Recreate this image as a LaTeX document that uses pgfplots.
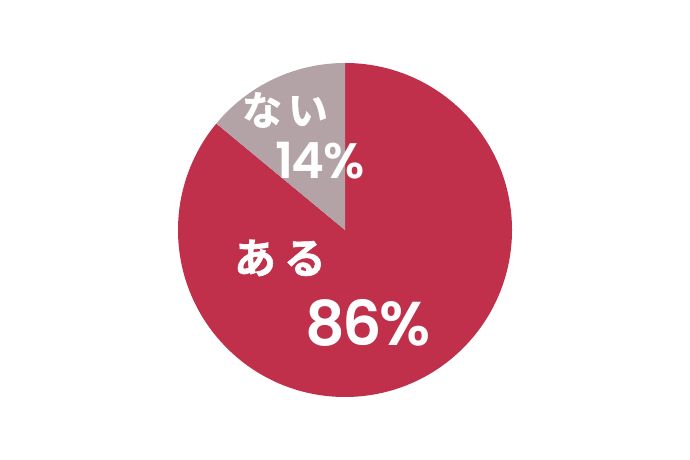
\documentclass[border=0pt]{standalone}
\usepackage{pgfplots}
\pgfplotsset{compat=1.18}
\usepackage{pgfplotstable}
\usepackage{fontspec}
\newfontfamily\jp{Noto Sans CJK JP Bold}[FakeBold=1.5]
\newfontfamily\pop{Poppins SemiBold}
\definecolor{pieRed}{HTML}{C0304A}
\definecolor{pieGrey}{HTML}{B3A3A6}
\pgfplotstableread{
label value
aru 86
nai 14
}\piedata
\pgfplotstablegetelem{0}{value}\of\piedata
\let\vA\pgfplotsretval
\pgfplotstablegetelem{1}{value}\of\piedata
\let\vB\pgfplotsretval
\pgfmathsetmacro{\endA}{90-3.6*\vA}
\pgfmathsetmacro{\endB}{\endA-3.6*\vB}
\begin{document}
\begin{tikzpicture}
\begin{axis}[hide axis, x=1bp, y=1bp, xmin=-345, xmax=345, ymin=-230, ymax=230,
  clip=false, axis line style={draw=none}]
\path (axis cs:-345,-230) rectangle (axis cs:345,230);
\fill[pieRed] (axis cs:0,0) -- ++(90:167bp) arc[start angle=90, end angle=\endA, radius=167bp] -- cycle;
\fill[pieGrey] (axis cs:0,0) -- ++(\endA:167bp) arc[start angle=\endA, end angle=\endB, radius=167bp] -- cycle;
\node[text=white, font=\jp\fontsize{40}{44}\selectfont] at (axis cs:-60,120) {な\kern6bp い};
\node[text=white, font=\pop\fontsize{50}{54}\selectfont] at (axis cs:-25,69) {1\kern-2bp 4\kern-1bp \%};
\node[text=white, font=\jp\fontsize{42}{46}\selectfont] at (axis cs:-65,-28) {あ\kern8bp る};
\node[text=white, font=\pop\fontsize{62}{66}\selectfont] at (axis cs:23,-93) {8\kern-3bp 6\kern-2bp \%};
\end{axis}
\end{tikzpicture}
\end{document}
